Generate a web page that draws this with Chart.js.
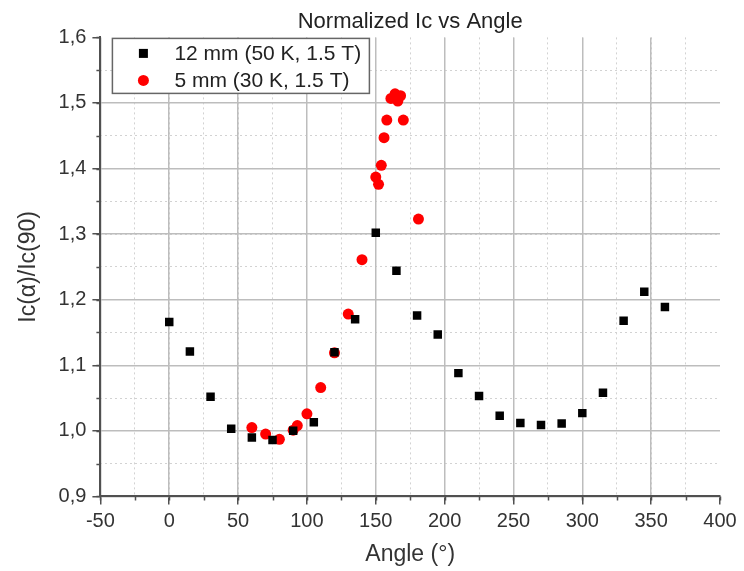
<!DOCTYPE html>
<html>
<head>
<meta charset="utf-8">
<script src="https://cdn.jsdelivr.net/npm/chart.js@4.4.0/dist/chart.umd.min.js"></script>
<style>
    body { margin: 0; background: #fff; }
    #wrap { width: 744px; height: 571px; }
</style>
</head>
<body>
<div id="wrap"><canvas id="chart" width="744" height="571"></canvas></div>
<script>
const FONT = '"Liberation Sans", Arial, sans-serif';

// 12 mm tape, 50 K, 1.5 T
const angle12 = [0, 15, 30, 45, 60, 75, 90, 105, 120, 135, 150, 165, 180,
    195, 210, 225, 240, 255, 270, 285, 300, 315, 330, 345, 360];
const ic12 = [1.166, 1.121, 1.052, 1.003, 0.990, 0.986, 1.000, 1.013, 1.120,
    1.170, 1.302, 1.244, 1.176, 1.147, 1.088, 1.053, 1.023, 1.012, 1.009,
    1.011, 1.027, 1.058, 1.168, 1.212, 1.189];

// 5 mm tape, 30 K, 1.5 T
const angle5 = [60, 70, 80, 90, 93, 100, 110, 120, 130, 140, 150, 152, 154,
    156, 158, 161, 164, 166, 168, 170, 181];
const ic5 = [1.005, 0.995, 0.987, 1.001, 1.008, 1.026, 1.066, 1.119, 1.178,
    1.261, 1.387, 1.376, 1.405, 1.447, 1.474, 1.507, 1.514, 1.503, 1.511,
    1.474, 1.323];

const xTicks = { min: -50, max: 400, step: 50, minor: 25 };
const yTicks = { min: 0.9, max: 1.6, step: 0.1, minor: 0.05 };

function toPoints(xs, ys) {
    return xs.map((x, i) => ({ x: x, y: ys[i] }));
}

// legend drawn inside the plot, framed like the original
const legendBox = {
    id: "legendBox",
    afterDatasetsDraw(chart) {
        const { ctx, chartArea } = chart;
        const x = chartArea.left + 12, y = chartArea.top + 1, w = 257, h = 55;
        ctx.save();
        ctx.fillStyle = "#fff";
        ctx.fillRect(x, y, w, h);
        ctx.strokeStyle = "#666";
        ctx.lineWidth = 1.5;
        ctx.strokeRect(x, y, w, h);
        ctx.font = "21px " + FONT;
        ctx.textBaseline = "middle";
        chart.data.datasets.forEach((ds, i) => {
            const cy = y + 15 + i * 27;
            const cx = x + 31;
            ctx.fillStyle = ds.backgroundColor;
            if (ds.pointStyle === "rect") {
                ctx.fillRect(cx - 4.5, cy - 4.5, 9, 9);
            } else {
                ctx.beginPath();
                ctx.arc(cx, cy, 5.5, 0, Math.PI * 2);
                ctx.fill();
            }
            ctx.fillStyle = "#222";
            ctx.fillText(ds.label, x + 62, cy + 1);
        });
        ctx.restore();
    },
};

// short minor tick marks on both axes
const minorTicks = {
    id: "minorTicks",
    afterDraw(chart) {
        const { ctx, chartArea, scales } = chart;
        ctx.save();
        ctx.strokeStyle = "#505050";
        ctx.lineWidth = 1.5;
        ctx.beginPath();
        scales.xm.ticks.forEach((t) => {
            const px = Math.round(scales.xm.getPixelForValue(t.value)) + 0.5;
            ctx.moveTo(px, chartArea.bottom);
            ctx.lineTo(px, chartArea.bottom + 4);
        });
        scales.ym.ticks.forEach((t) => {
            const py = Math.round(scales.ym.getPixelForValue(t.value)) + 0.5;
            ctx.moveTo(chartArea.left - 4, py);
            ctx.lineTo(chartArea.left, py);
        });
        ctx.stroke();
        ctx.restore();
    },
};

const hideAt = (limit, color) => (c) =>
    c.tick && Math.abs(c.tick.value - limit) < 1e-6 ? "rgba(0,0,0,0)" : color;

const chart = new Chart(document.getElementById("chart"), {
    type: "scatter",
    data: {
        datasets: [{
            label: "12 mm (50 K, 1.5 T)",
            data: toPoints(angle12, ic12),
            pointStyle: "rect",
            pointRadius: 6,
            pointHoverRadius: 6,
            backgroundColor: "#000",
            borderColor: "#000",
            borderWidth: 0,
        }, {
            label: "5 mm (30 K, 1.5 T)",
            data: toPoints(angle5, ic5),
            pointStyle: "circle",
            pointRadius: 5.5,
            pointHoverRadius: 5.5,
            backgroundColor: "#ff0000",
            borderColor: "#ff0000",
            borderWidth: 0,
        }],
    },
    options: {
        responsive: false,
        animation: false,
        layout: { padding: { left: 12, right: 24, top: 0, bottom: 3 } },
        plugins: {
            legend: { display: false },
            tooltip: { enabled: false },
            title: {
                display: true,
                text: "Normalized Ic vs Angle",
                fullSize: false,
                color: "#222",
                font: { family: FONT, size: 22, weight: "normal" },
                padding: { top: 9, bottom: 2 },
            },
        },
        scales: {
            xm: {
                type: "linear",
                position: "bottom",
                min: xTicks.min,
                max: xTicks.max,
                ticks: { display: false, stepSize: xTicks.minor },
                grid: { drawTicks: false, color: hideAt(xTicks.max, "#d2d2d2"), lineWidth: 1 },
                border: { display: false, dash: [2, 3] },
            },
            ym: {
                type: "linear",
                position: "left",
                min: yTicks.min,
                max: yTicks.max,
                ticks: { display: false, stepSize: yTicks.minor },
                grid: { drawTicks: false, color: hideAt(yTicks.max, "#d2d2d2"), lineWidth: 1 },
                border: { display: false, dash: [2, 3] },
            },
            x: {
                type: "linear",
                position: "bottom",
                min: xTicks.min,
                max: xTicks.max,
                ticks: {
                    stepSize: xTicks.step,
                    color: "#333",
                    padding: 5,
                    maxRotation: 0,
                    font: { family: FONT, size: 20 },
                },
                grid: {
                    color: hideAt(xTicks.max, "#bdbdbd"),
                    lineWidth: 1.5,
                    tickLength: 8,
                    tickColor: "#505050",
                    tickWidth: 1.5,
                },
                border: { color: "#505050", width: 2 },
                title: {
                    display: true,
                    text: "Angle (°)",
                    color: "#333",
                    font: { family: FONT, size: 23 },
                    padding: { top: 2, bottom: 0 },
                },
            },
            y: {
                type: "linear",
                position: "left",
                min: yTicks.min,
                max: yTicks.max,
                ticks: {
                    stepSize: yTicks.step,
                    color: "#333",
                    padding: 6,
                    font: { family: FONT, size: 20 },
                    callback: (v) => v.toFixed(1).replace(".", ","),
                },
                grid: {
                    color: hideAt(yTicks.max, "#bdbdbd"),
                    lineWidth: 1.5,
                    tickLength: 8,
                    tickColor: "#505050",
                    tickWidth: 1.5,
                },
                border: { color: "#505050", width: 2 },
                title: {
                    display: true,
                    text: "Ic(α)/Ic(90)",
                    color: "#333",
                    font: { family: FONT, size: 23 },
                    padding: { top: 3, bottom: 10 },
                },
            },
        },
    },
    plugins: [legendBox, minorTicks],
});
</script>
</body>
</html>
